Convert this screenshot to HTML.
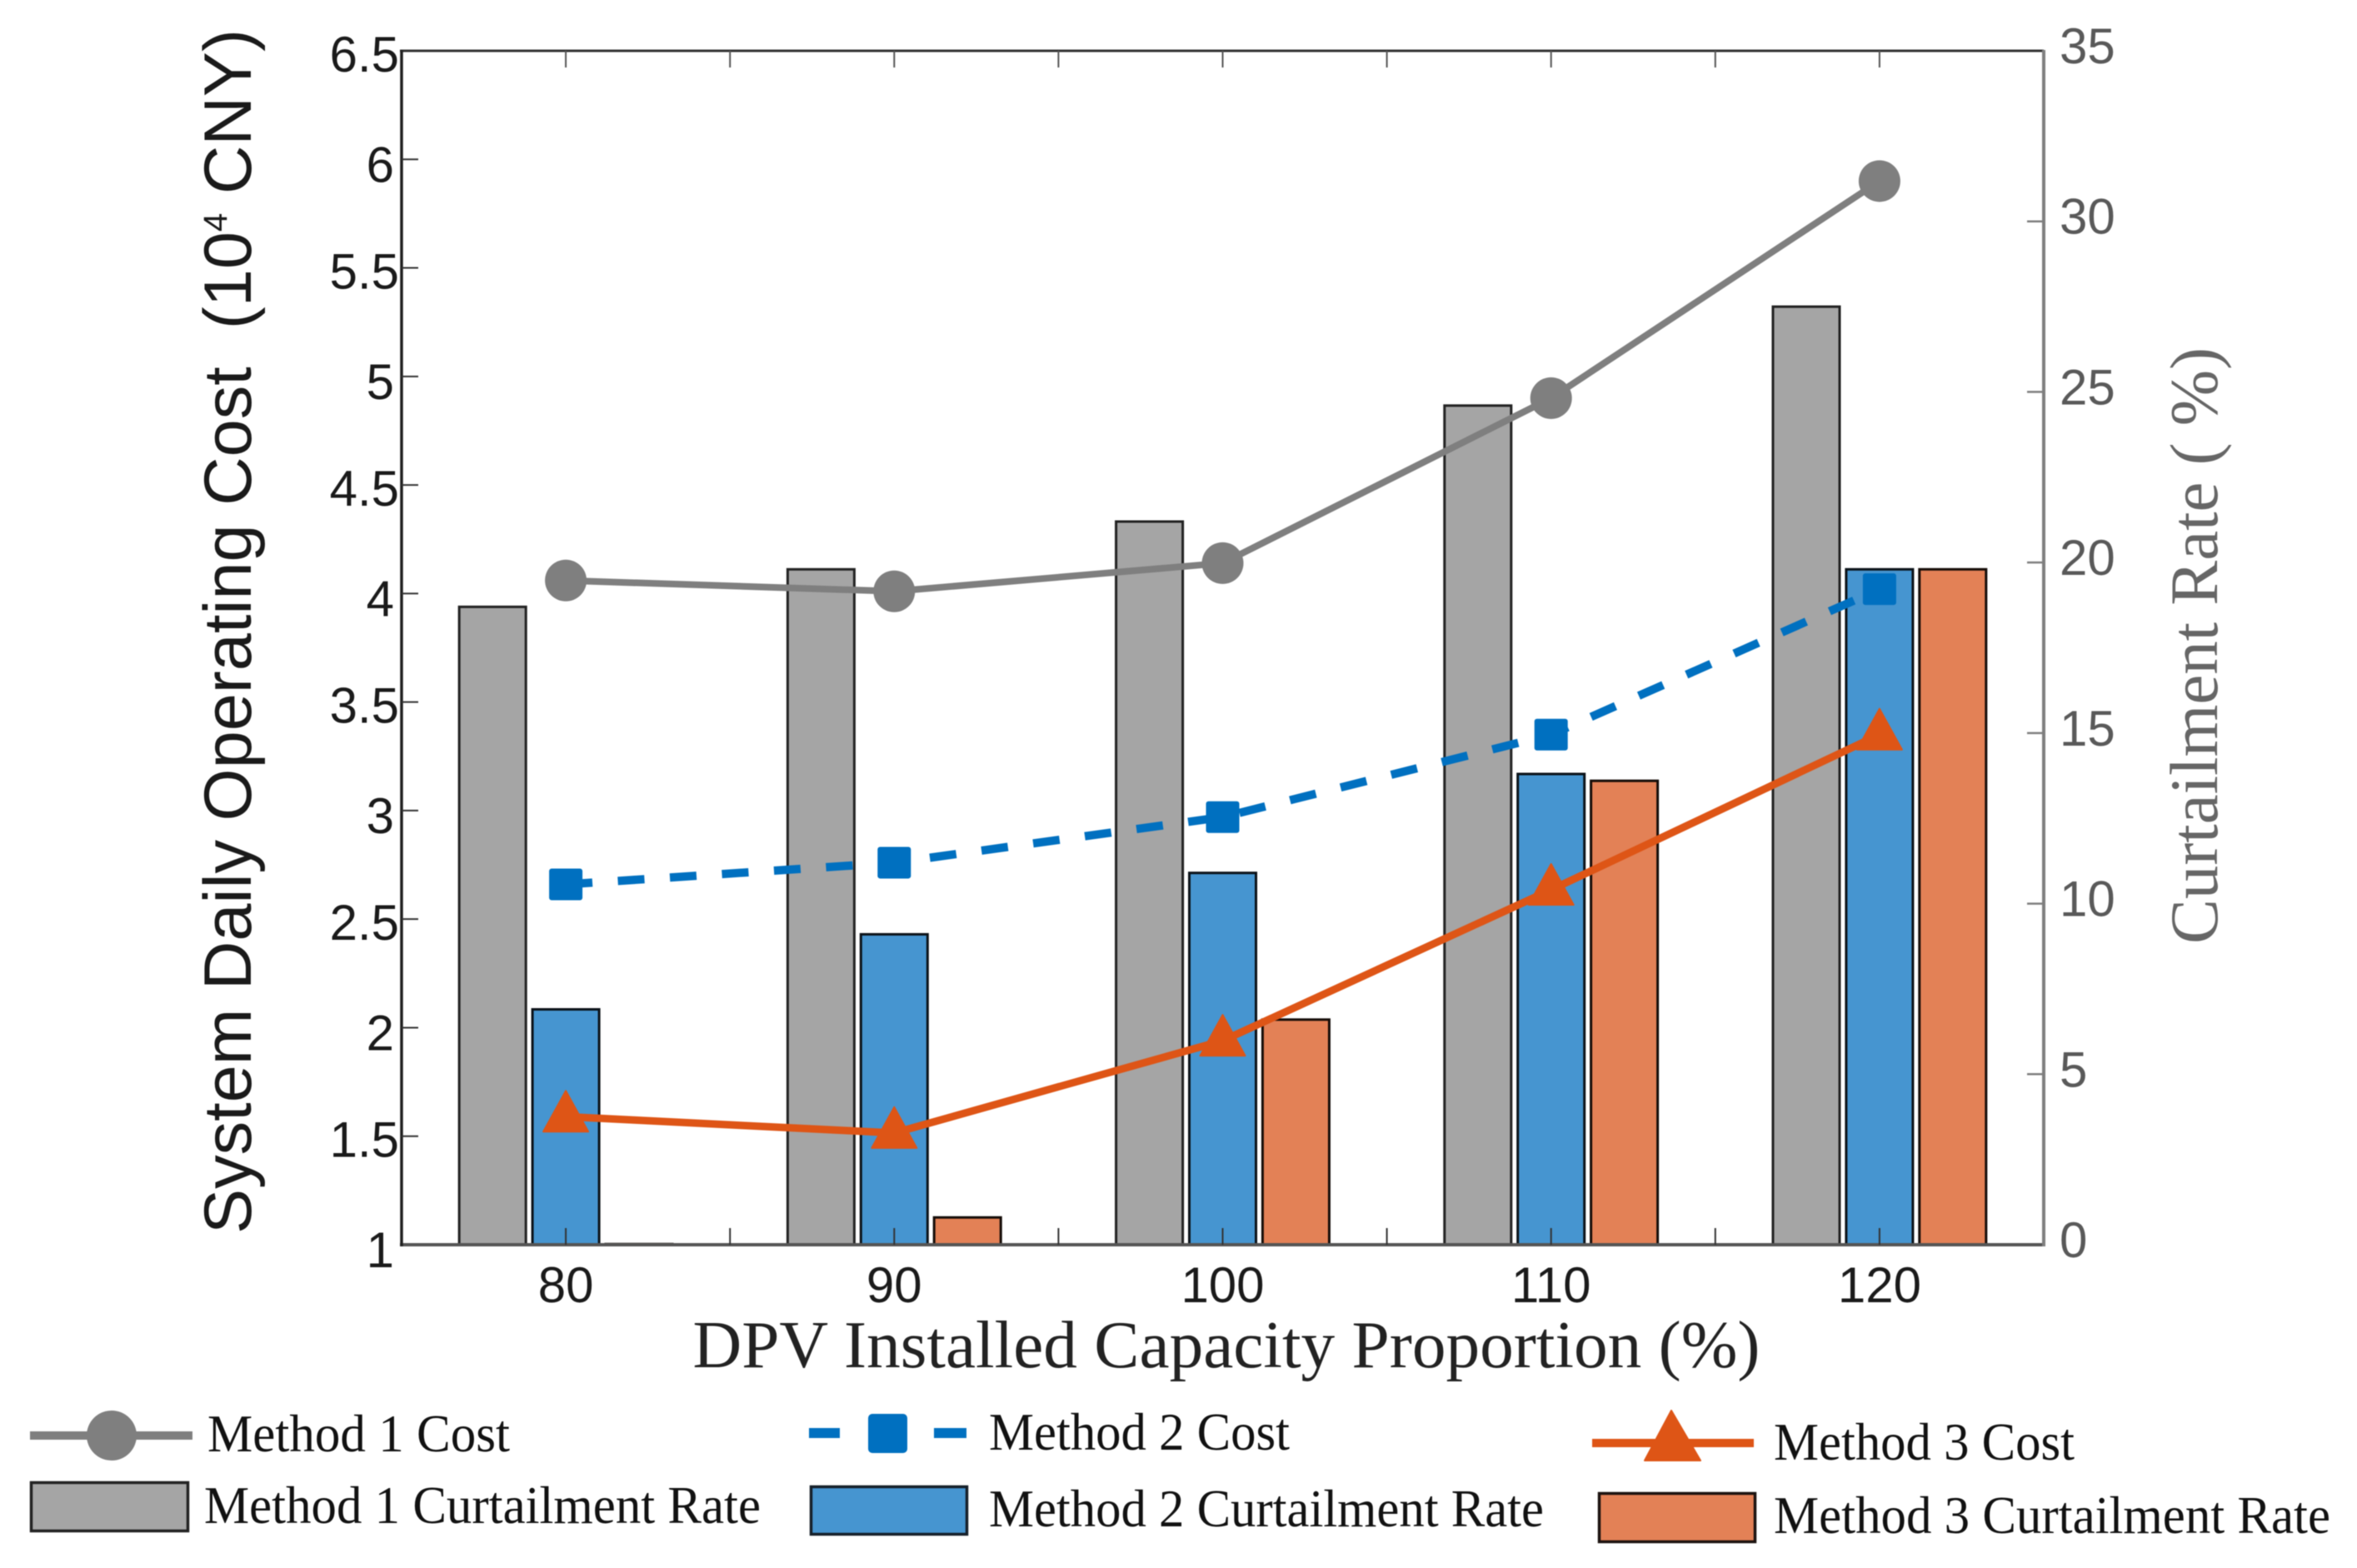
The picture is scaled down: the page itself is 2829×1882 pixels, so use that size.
<!DOCTYPE html>
<html lang="en">
<head>
<meta charset="utf-8">
<title>System Daily Operating Cost and Curtailment Rate</title>
<style>
html,body{margin:0;padding:0;background:#fff;width:2829px;height:1882px;overflow:hidden}
svg{display:block;filter:blur(0.6px)}
.sans{font-family:"Liberation Sans",Arial,sans-serif}
.serif{font-family:"Liberation Serif","Times New Roman",serif}
</style>
</head>
<body>
<svg id="chart" xmlns="http://www.w3.org/2000/svg" width="2829" height="1882" viewBox="0 0 2829 1882">
  <rect x="0" y="0" width="2829" height="1882" fill="#ffffff"/>
  <g id="bars"></g>
  <g id="axes"></g>
  <g id="lines"></g>

  <text class="serif" x="1472" y="1641" font-size="80" text-anchor="middle" fill="#222" textLength="1281" lengthAdjust="spacingAndGlyphs">DPV Installed Capacity Proportion (%)</text>
  <text class="sans" transform="translate(301,1481) rotate(-90)" font-size="81" fill="#1a1a1a" textLength="1446" lengthAdjust="spacingAndGlyphs" xml:space="preserve">System Daily Operating Cost  (10<tspan font-size="40" dy="-29">4</tspan><tspan dy="29"> CNY)</tspan></text>
  <text class="serif" transform="translate(2661,1133) rotate(-90)" font-size="82" fill="#666666" textLength="716" lengthAdjust="spacingAndGlyphs">Curtailment Rate ( %)</text>

  <g>
    <g>
      <line x1="36" y1="1723" x2="231" y2="1723" stroke="#7f7f7f" stroke-width="10"/>
      <circle cx="134" cy="1723" r="30" fill="#7f7f7f"/>
      <text class="serif" x="249" y="1742" font-size="64" fill="#111" textLength="363" lengthAdjust="spacingAndGlyphs">Method 1 Cost</text>
    </g>
    <g>
      <rect x="37.5" y="1779.5" width="188" height="58" fill="#a5a5a5" stroke="#222" stroke-width="3.5"/>
      <text class="serif" x="245" y="1828" font-size="64" fill="#111" textLength="668" lengthAdjust="spacingAndGlyphs">Method 1 Curtailment Rate</text>
    </g>
    <g>
      <rect x="971" y="1714" width="37" height="12" fill="#0070c0"/>
      <rect x="1121" y="1714" width="39" height="12" fill="#0070c0"/>
      <rect x="1042" y="1697" width="47" height="47" rx="5" fill="#0070c0"/>
      <text class="serif" x="1187" y="1740" font-size="64" fill="#111" textLength="361" lengthAdjust="spacingAndGlyphs">Method 2 Cost</text>
    </g>
    <g>
      <rect x="973.5" y="1784.5" width="187" height="57" fill="#4695d0" stroke="#16202a" stroke-width="3.5"/>
      <text class="serif" x="1187" y="1832" font-size="64" fill="#111" textLength="666" lengthAdjust="spacingAndGlyphs">Method 2 Curtailment Rate</text>
    </g>
    <g>
      <line x1="1911" y1="1732" x2="2105" y2="1732" stroke="#de5516" stroke-width="10"/>
      <path d="M2006 1693 L2041 1753 L1974 1753 Z" fill="#de5516" stroke="#de5516" stroke-width="2" stroke-linejoin="round"/>
      <text class="serif" x="2129" y="1752" font-size="64" fill="#111" textLength="361" lengthAdjust="spacingAndGlyphs">Method 3 Cost</text>
    </g>
    <g>
      <rect x="1919.5" y="1792.5" width="187" height="58" fill="#e38156" stroke="#1c1310" stroke-width="3.5"/>
      <text class="serif" x="2129" y="1840" font-size="64" fill="#111" textLength="668" lengthAdjust="spacingAndGlyphs">Method 3 Curtailment Rate</text>
    </g>
  </g>
</svg>
<script>
const categories = [80, 90, 100, 110, 120];
const method1Cost = [4.06, 4.01, 4.14, 4.90, 5.90];
const method2Cost = [2.66, 2.76, 2.97, 3.35, 4.02];
const method3Cost = [1.59, 1.515, 1.94, 2.635, 3.35];
const method1Curtailment = [18.7, 19.8, 21.2, 24.6, 27.5];
const method2Curtailment = [6.9, 9.1, 10.9, 13.8, 19.8];
const method3Curtailment = [0.02, 0.8, 6.6, 13.6, 19.8];
const xTickValues = [75, 80, 85, 90, 95, 100, 105, 110, 115, 120, 125];
const xTickLabels = ['80', '90', '100', '110', '120'];
const leftTickLabels = ['1', '1.5', '2', '2.5', '3', '3.5', '4', '4.5', '5', '5.5', '6', '6.5'];
const rightTickLabels = ['0', '5', '10', '15', '20', '25', '30', '35'];

const plotLeft = 482, plotRight = 2453, plotTop = 61, plotBottom = 1494;
const xMin = 75, xMax = 125, leftMin = 1, leftMax = 6.5, rightMin = 0, rightMax = 35;
function xScale(v) { return plotLeft + (v - xMin) / (xMax - xMin) * (plotRight - plotLeft); }
function leftScale(v) { return plotBottom - (v - leftMin) / (leftMax - leftMin) * (plotBottom - plotTop); }
function rightScale(v) { return plotBottom - (v - rightMin) / (rightMax - rightMin) * (plotBottom - plotTop); }

const NS = 'http://www.w3.org/2000/svg';
function make(parent, tag, props, text) {
  const el = document.createElementNS(NS, tag);
  for (const k in props) el.setAttribute(k, props[k]);
  if (text !== undefined) el.textContent = text;
  parent.appendChild(el);
  return el;
}

const barsLayer = document.getElementById('bars');
const axesLayer = document.getElementById('axes');
const linesLayer = document.getElementById('lines');

/* bars */
const barWidthUnits = 2.03, barStepUnits = 2.23;
const barSeries = [
  { values: method1Curtailment, fill: '#a5a5a5', stroke: '#222222', offset: -1 },
  { values: method2Curtailment, fill: '#4695d0', stroke: '#0b1218', offset: 0 },
  { values: method3Curtailment, fill: '#e38156', stroke: '#140c08', offset: 1 }
];
barSeries.forEach(function (s) {
  s.values.forEach(function (v, i) {
    const cx = categories[i] + s.offset * barStepUnits;
    const x0 = xScale(cx - barWidthUnits / 2);
    const x1 = xScale(cx + barWidthUnits / 2);
    const y0 = rightScale(v);
    const r = make(barsLayer, 'rect', { x: x0, y: y0, width: x1 - x0, height: plotBottom - y0, fill: s.fill, stroke: s.stroke, 'stroke-width': 3 });
    
    
  });
});

/* axes frame */
const frameTop = make(axesLayer, 'line', { x1: plotLeft - 2, y1: plotTop, x2: plotRight, y2: plotTop, stroke: '#333333', 'stroke-width': 3 });


const frameBottom = make(axesLayer, 'line', { x1: plotLeft - 2, y1: plotBottom, x2: plotRight + 2, y2: plotBottom, stroke: '#555555', 'stroke-width': 4 });


const frameLeft = make(axesLayer, 'line', { x1: plotLeft, y1: plotTop - 1, x2: plotLeft, y2: plotBottom + 2, stroke: '#222222', 'stroke-width': 3.5 });


const frameRight = make(axesLayer, 'line', { x1: plotRight, y1: plotTop - 1, x2: plotRight, y2: plotBottom + 2, stroke: '#7f7f7f', 'stroke-width': 4 });



/* x ticks */
xTickValues.slice(1, -1).forEach(function (v) {
  const x = xScale(v);
  const tb = make(axesLayer, 'line', { x1: x, y1: plotBottom, x2: x, y2: plotBottom - 20, stroke: '#333333', 'stroke-width': 2 });
  
  
  const tt = make(axesLayer, 'line', { x1: x, y1: plotTop, x2: x, y2: plotTop + 20, stroke: '#555555', 'stroke-width': 2 });
  
  
});
xTickLabels.forEach(function (label) {
  const t = make(axesLayer, 'text', { x: xScale(Number(label)), y: 1563, 'font-size': 60, 'text-anchor': 'middle', fill: '#1a1a1a', class: 'sans' }, label);
  
  
});

/* left ticks */
leftTickLabels.forEach(function (label) {
  const y = leftScale(Number(label));
  const isHalf = label.indexOf('.') >= 0;
  if (Number(label) > leftMin && Number(label) < leftMax) {
    const tick = make(axesLayer, 'line', { x1: plotLeft, y1: y, x2: plotLeft + 20, y2: y, stroke: '#333333', 'stroke-width': 2 });
    
    
  }
  const t = make(axesLayer, 'text', { x: isHalf ? 479 : 473, y: y + (isHalf ? 25 : 27), 'font-size': 60, 'text-anchor': 'end', fill: '#1a1a1a', class: 'sans' }, label);
  
  
});

/* right ticks */
rightTickLabels.forEach(function (label) {
  const y = rightScale(Number(label));
  if (Number(label) > rightMin && Number(label) < rightMax) {
    const tick = make(axesLayer, 'line', { x1: plotRight, y1: y, x2: plotRight - 20, y2: y, stroke: '#7f7f7f', 'stroke-width': 2.5 });
    
    
  }
  const t = make(axesLayer, 'text', { x: 2472, y: y + 15, 'font-size': 60, fill: '#595959', class: 'sans' }, label);
  
  
});

/* lines */
function pointsOf(values) {
  return values.map(function (v, i) { return xScale(categories[i]) + ',' + leftScale(v); }).join(' ');
}
const line1 = make(linesLayer, 'polyline', { points: pointsOf(method1Cost), fill: 'none', stroke: '#7f7f7f', 'stroke-width': 8 });


const line2 = make(linesLayer, 'polyline', { points: pointsOf(method2Cost), fill: 'none', stroke: '#0070c0', 'stroke-width': 10, 'stroke-dasharray': '32 30.6' });


const line3 = make(linesLayer, 'polyline', { points: pointsOf(method3Cost), fill: 'none', stroke: '#de5516', 'stroke-width': 9 });



method1Cost.forEach(function (v, i) {
  const m = make(linesLayer, 'circle', { cx: xScale(categories[i]), cy: leftScale(v), r: 25, fill: '#7f7f7f' });
  
  
});
method2Cost.forEach(function (v, i) {
  const cx = xScale(categories[i]), cy = leftScale(v);
  const m = make(linesLayer, 'rect', { x: cx - 20, y: cy - 19, width: 40, height: 38, rx: 3, fill: '#0070c0' });
  
  
});
method3Cost.forEach(function (v, i) {
  const cx = xScale(categories[i]), cy = leftScale(v);
  const d = 'M' + cx + ' ' + (cy - 31) + ' L' + (cx + 27) + ' ' + (cy + 18) + ' L' + (cx - 27) + ' ' + (cy + 18) + ' Z';
  const m = make(linesLayer, 'path', { d: d, fill: '#de5516', stroke: '#de5516', 'stroke-width': 2, 'stroke-linejoin': 'round' });
  
  
});
</script>
</body>
</html>
